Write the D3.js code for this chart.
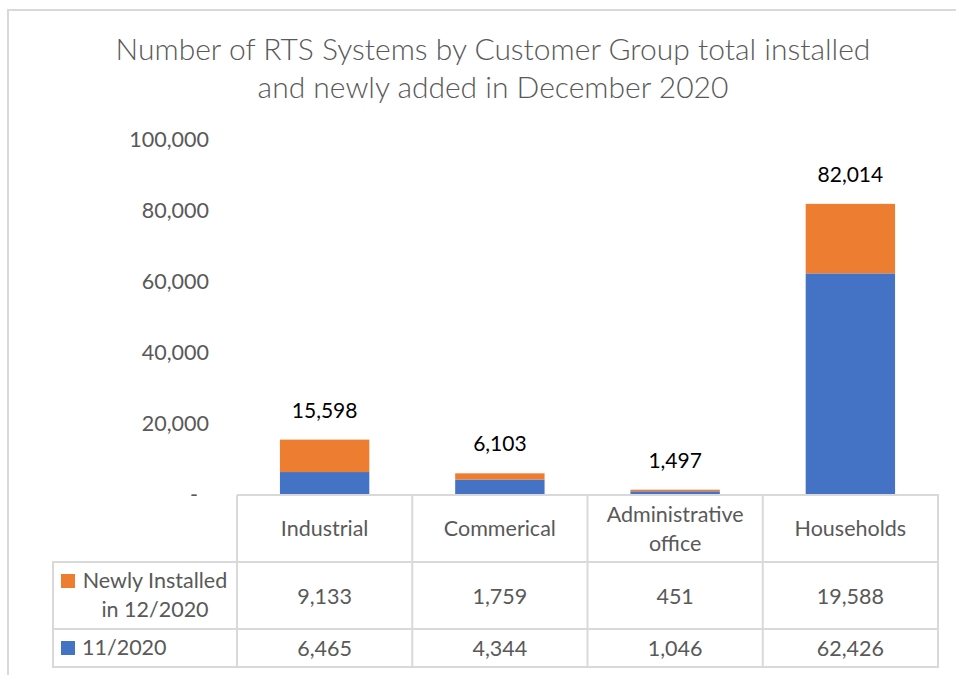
<!DOCTYPE html>
<html>
<head>
<meta charset="utf-8">
<script src="https://cdn.jsdelivr.net/npm/d3@7"></script>
<style>
  body { margin: 0; background: #fff; }
  .chart text { font-family: Lato, "Open Sans", sans-serif; }
</style>
</head>
<body>
<div class="chart"></div>
<script>
var width = 956;
var height = 675;

// data
var categories = ['Industrial', 'Commerical', 'Administrative office', 'Households'];
var newly_installed = [9133, 1759, 451, 19588];
var nov_2020 = [6465, 4344, 1046, 62426];
var y_ticks = [0, 20000, 40000, 60000, 80000, 100000];
var colors = { newly: '#ED7D31', nov: '#4472C4' };

var fs = 21.5;

var chart_svg = d3.select('.chart').append('svg')
	.attr('width', width)
	.attr('height', height);

// outer chart border (cut at right and bottom)
chart_svg.append('path')
	.attr('d', 'M8,' + height + ' V10 H' + width)
	.attr('fill', 'none')
	.attr('stroke', '#d9d9d9')
	.attr('stroke-width', 2);

// title
var title = chart_svg.append('text')
	.attr('x', 493)
	.attr('text-anchor', 'middle')
	.attr('font-size', 30)
	.attr('font-weight', 300)
	.attr('fill', '#595959');
title.append('tspan').attr('x', 493).attr('y', 60).text('Number of RTS Systems by Customer Group total installed');
title.append('tspan').attr('x', 493).attr('y', 98).text('and newly added in December 2020');

var x = d3.scaleBand()
	.domain(categories)
	.range([237, 938])
	.paddingInner(0.49)
	.paddingOuter(0.245);

var y = d3.scaleLinear()
	.domain([0, 100000])
	.range([495, 140]);

var fmt = d3.format(',');

// y axis labels (accounting style: zero shown as a dash)
var yAxis = d3.axisLeft(y)
	.tickValues(y_ticks)
	.tickSize(0)
	.tickPadding(0)
	.tickFormat(function(d) { return d === 0 ? '-' : fmt(d); });
var gy = chart_svg.append('g')
	.attr('transform', 'translate(209,0)')
	.call(yAxis);
gy.select('.domain').remove();
gy.selectAll('text')
	.attr('font-size', fs)
	.attr('fill', '#595959')
	.style('font-family', 'Lato, "Open Sans", sans-serif')
	.attr('dx', function(d) { return d === 0 ? -11 : 0; });

// stacked bars
var stack_data = categories.map(function(c, i) {
	return { cat: c, nov: nov_2020[i], newly: newly_installed[i] };
});
var stacked = d3.stack().keys(['nov', 'newly'])(stack_data);

chart_svg.append('g').selectAll('g')
	.data(stacked)
	.enter().append('g')
	.attr('fill', function(s) { return colors[s.key]; })
	.selectAll('rect')
	.data(function(s) { return s; })
	.enter().append('rect')
	.attr('x', function(d) { return x(d.data.cat); })
	.attr('width', x.bandwidth())
	.attr('y', function(d) { return y(d[1]); })
	.attr('height', function(d) { return y(d[0]) - y(d[1]); });

// totals above bars
chart_svg.append('g').selectAll('text')
	.data(stack_data)
	.enter().append('text')
	.attr('x', function(d) { return x(d.cat) + x.bandwidth() / 2; })
	.attr('y', function(d) { return y(d.nov + d.newly) - 22; })
	.attr('text-anchor', 'middle')
	.attr('font-size', 21)
	.attr('fill', '#000')
	.text(function(d) { return fmt(d.nov + d.newly); });

// data table
var grid = '#d9d9d9';
var step = x.step();
var col_left = function(c) { return x(c) - x.paddingInner() * step / 2; };
var rows = [
	{ name: ['Newly Installed', 'in 12/2020'], key: 'newly', values: newly_installed, top: 562, bottom: 629 },
	{ name: ['11/2020'], key: 'nov', values: nov_2020, top: 629, bottom: 667 }
];
var table = chart_svg.append('g');
var table_left = 53, cats_left = 237, table_right = 938, head_top = 495;

table.append('path')
	.attr('d', 'M' + cats_left + ',' + head_top + ' H' + table_right + ' V667 H' + table_left + ' V562 H' + table_right +
		' M' + table_left + ',629 H' + table_right)
	.attr('fill', 'none').attr('stroke', grid).attr('stroke-width', 2);
var vlines = [cats_left].concat(categories.slice(1).map(col_left));
table.selectAll('line.v')
	.data(vlines)
	.enter().append('line')
	.attr('x1', function(d) { return d; })
	.attr('x2', function(d) { return d; })
	.attr('y1', head_top)
	.attr('y2', 667)
	.attr('stroke', grid).attr('stroke-width', 2);

// header cells
table.selectAll('text.head')
	.data(categories)
	.enter().append('text')
	.attr('text-anchor', 'middle')
	.attr('font-size', fs)
	.attr('fill', '#595959')
	.each(function(c) {
		var lines = c === 'Administrative office' ? ['Administrative', 'office'] : [c];
		var cx = x(c) + x.bandwidth() / 2;
		var y0 = lines.length > 1 ? 522 : 536;
		d3.select(this).selectAll('tspan')
			.data(lines)
			.enter().append('tspan')
			.attr('x', cx)
			.attr('y', function(l, i) { return y0 + i * 29; })
			.text(function(l) { return l; });
	});

// row header and values
rows.forEach(function(r) {
	var mid = (r.top + r.bottom) / 2;
	var sq = r.name.length > 1 ? r.top + 12 : mid - 7;
	table.append('rect')
		.attr('x', 61).attr('y', sq)
		.attr('width', 14).attr('height', 14)
		.attr('fill', colors[r.key]);
	if (r.name.length > 1) {
		var t = table.append('text')
			.attr('text-anchor', 'middle')
			.attr('font-size', fs)
			.attr('fill', '#595959');
		t.selectAll('tspan')
			.data(r.name)
			.enter().append('tspan')
			.attr('x', 155)
			.attr('y', function(l, i) { return r.top + 26 + i * 29; })
			.text(function(l) { return l; });
	} else {
		table.append('text')
			.attr('x', 82).attr('y', mid + 7)
			.attr('font-size', fs)
			.attr('fill', '#595959')
			.text(r.name[0]);
	}
	table.selectAll(null)
		.data(r.values)
		.enter().append('text')
		.attr('x', function(d, i) { return x(categories[i]) + x.bandwidth() / 2; })
		.attr('y', mid + 8)
		.attr('text-anchor', 'middle')
		.attr('font-size', fs)
		.attr('fill', '#595959')
		.text(function(d) { return fmt(d); });
});
</script>
</body>
</html>
